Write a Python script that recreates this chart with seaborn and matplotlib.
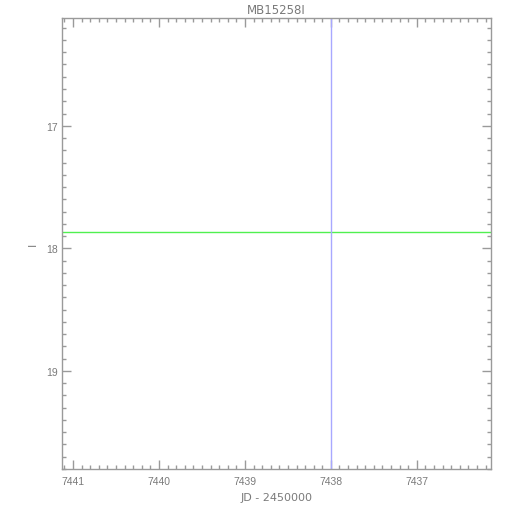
import numpy as np
import pandas as pd
import matplotlib
matplotlib.use('Agg')
import matplotlib.pyplot as plt
import seaborn as sns
from matplotlib.ticker import MultipleLocator

# light curve window for MB15258I (JD - 2450000, I magnitude)
title_plot = 'MB15258I'
jd_window = [7441.125, 7436.14]
baseline_mag = [17.87, 17.87]
event_jd = 7438.0
mag_range = [19.80, 16.123]

sns.set_style('white')
plt.rcParams['font.family'] = ['Liberation Sans', 'DejaVu Sans']

axis_grey = '#9a9a9a'
text_grey = '#7a7a7a'

fig = plt.figure(figsize=(5.1, 5.1), dpi=100)
ax = fig.add_axes([0.1222, 0.0784, 0.8400, 0.8838])

df_base = pd.DataFrame({'jd': jd_window, 'mag': baseline_mag})
sns.lineplot(data=df_base, x='jd', y='mag', color='#50f050', lw=1.0, ax=ax)
ax.axvline(event_jd, color='#a8a8ff', lw=1.0)

ax.set_xlim(jd_window[0], jd_window[1])
ax.set_ylim(mag_range[0], mag_range[1])

ax.xaxis.set_major_locator(MultipleLocator(1))
ax.xaxis.set_minor_locator(MultipleLocator(0.1))
ax.yaxis.set_major_locator(MultipleLocator(1))
ax.yaxis.set_minor_locator(MultipleLocator(0.1))
ax.xaxis.set_major_formatter(matplotlib.ticker.FormatStrFormatter('%d'))
ax.yaxis.set_major_formatter(matplotlib.ticker.FormatStrFormatter('%d'))

for s in ax.spines.values():
    s.set_color(axis_grey)
    s.set_linewidth(1.0)

ax.tick_params(which='both', direction='in', top=True, right=True, bottom=True, left=True,
               color=axis_grey, width=1.0, labelcolor=text_grey, labelsize=7.5)
ax.tick_params(which='major', length=6.5)
ax.tick_params(which='minor', length=3)
ax.tick_params(axis='x', which='major', pad=5)
ax.tick_params(axis='y', which='major', pad=3)

ax.set_xlabel('JD - 2450000', color=text_grey, fontsize=8, family='DejaVu Sans')
ax.set_ylabel('I', color=text_grey, fontsize=8, family='DejaVu Sans')
ax.xaxis.set_label_coords(0.501, -0.050)
ax.yaxis.set_label_coords(-0.057, 0.5)
ax.set_title(title_plot, color=text_grey, fontsize=8.5, family='DejaVu Sans', pad=3.5)

plt.savefig('out.png', dpi=100)
